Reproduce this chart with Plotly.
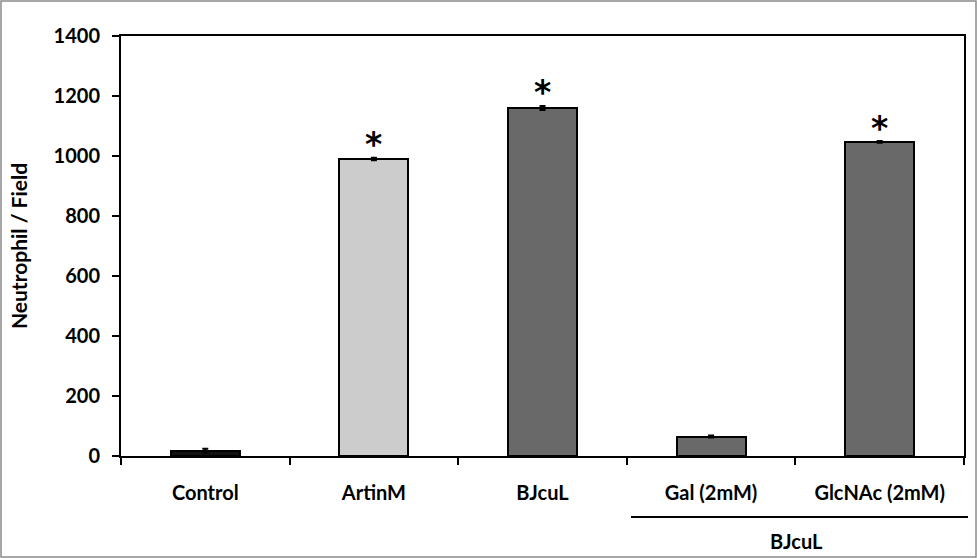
import plotly.graph_objects as go

categories = ["Control", "ArtinM", "BJcuL", "Gal (2mM)", "GlcNAc (2mM)"]
values = [18, 990, 1160, 65, 1047]
errors = [6, 4, 7, 3, 3]
colors = ["#111111", "#CCCCCC", "#696969", "#696969", "#696969"]
significant = [False, True, True, False, True]
group_label = "BJcuL"
y_title = "Neutrophil / Field"
y_ticks = [0, 200, 400, 600, 800, 1000, 1200, 1400]

FONT = "Lato"

fig = go.Figure()
fig.add_trace(go.Bar(
    x=categories, y=values,
    marker=dict(color=colors, line=dict(color="black", width=2)),
    width=0.41,
    error_y=dict(type="data", array=errors, visible=True, color="black", thickness=2, width=3),
    showlegend=False,
))

annotations = []
for c, v, e, s in zip(categories, values, errors, significant):
    if s:
        annotations.append(dict(x=c, y=v + e, xref="x", yref="y", text="<b>*</b>", showarrow=False,
                                yanchor="middle", yshift=13,
                                font=dict(family="DejaVu Sans", size=33, color="black")))

L, R, T, B = 121, 13, 36, 102
W, H = 977, 558
pw, ph = W - L - R, H - T - B

def px_x(x):
    return (x - L) / pw

def px_y(y):
    return (H - B - y) / ph

annotations.append(dict(x=px_x(796), y=px_y(541), xref="paper", yref="paper",
                        text="<b>" + group_label + "</b>",
                        showarrow=False, font=dict(family=FONT, size=20, color="black"),
                        xanchor="center", yanchor="middle"))

shapes = [
    dict(type="line", xref="paper", yref="paper", x0=px_x(631), x1=px_x(968),
         y0=px_y(517), y1=px_y(517), line=dict(color="black", width=2)),
    dict(type="rect", xref="paper", yref="paper", x0=px_x(1), x1=px_x(976),
         y0=px_y(557), y1=px_y(1), line=dict(color="#8a8a8a", width=1.5)),
]

fig.update_layout(
    width=W, height=H,
    margin=dict(l=L, r=R, t=T, b=B),
    plot_bgcolor="white", paper_bgcolor="white",
    font=dict(family=FONT, size=20, color="black"),
    annotations=annotations, shapes=shapes,
    bargap=0,
)
fig.update_xaxes(
    type="category", tickson="boundaries", ticks="outside", ticklen=7, tickwidth=2, tickcolor="black",
    showline=True, linecolor="black", linewidth=2, mirror=True, showgrid=False,
    tickfont=dict(family=FONT, size=20, color="black"), range=[-0.5, 4.5],
    tickvals=categories, ticktext=["<b>" + c + "</b>" for c in categories],
    ticklabelstandoff=18,
)
fig.update_yaxes(
    range=[0, 1400], tickvals=y_ticks, ticktext=["<b>" + str(t) + "</b>" for t in y_ticks],
    ticks="outside", ticklen=7, tickwidth=2, tickcolor="black",
    showline=True, linecolor="black", linewidth=2, mirror=True, showgrid=False, zeroline=False,
    tickfont=dict(family=FONT, size=20, color="black"),
    ticklabelstandoff=8,
    title=dict(text="<b>" + y_title + "</b>", font=dict(family=FONT, size=21, color="black"), standoff=20),
)

fig.write_html("out.html", config={"displayModeBar": False},
               post_script="document.body.style.margin='0';document.body.style.overflow='hidden';")
